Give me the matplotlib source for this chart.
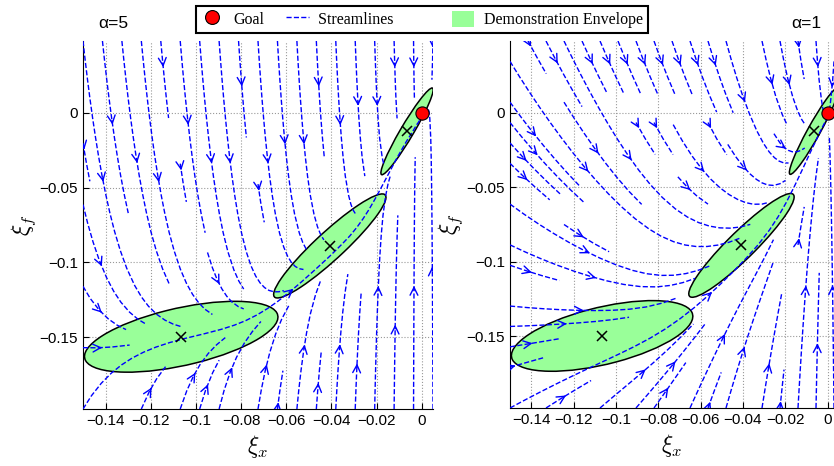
import numpy as np
import matplotlib
matplotlib.use("Agg")
import matplotlib.pyplot as plt
from matplotlib.patches import Ellipse, Patch
from matplotlib.lines import Line2D
from matplotlib.ticker import FuncFormatter

plt.rcParams['font.family'] = ['Liberation Sans', 'DejaVu Sans']
plt.rcParams['mathtext.fontset'] = 'cm'

# Gaussian components of the demonstration envelope (centre + covariance)
comp_x = [-0.1065, -0.0407, -0.0065]
comp_f = [-0.1497, -0.0890, -0.0124]
cov_xx = [1.835e-3, 6.19e-4, 1.34e-4]
cov_xf = [5.63e-4, 8.07e-4, 3.21e-4]
cov_ff = [5.61e-4, 1.21e-3, 8.40e-4]
goal = (0.0, 0.0)
alphas = [5, 1]
xticks = [-0.14, -0.12, -0.1, -0.08, -0.06, -0.04, -0.02, 0]
yticks = [-0.15, -0.1, -0.05, 0]

GREEN = '#99ff99'


def field(X, F, alpha):
    # weights of each component conditioned on xi_x
    w = np.array([np.exp(-0.5 * (X - mx) ** 2 / vx) / np.sqrt(vx)
                  for mx, vx in zip(comp_x, cov_xx)])
    w /= w.sum(axis=0)
    slopes = np.array(cov_xf) / np.array(cov_xx)
    fref = sum(w[k] * (comp_f[k] + slopes[k] * (X - comp_x[k])) for k in range(3))
    sl = sum(w[k] * slopes[k] for k in range(3))
    U = 0.5 * (goal[0] - X)
    V = sl * U + alpha * (fref - F)
    return U, V


def draw_streams(ax, alpha, xlim, ylim):
    xs = np.linspace(xlim[0], xlim[1], 80)
    fs = np.linspace(ylim[0], ylim[1], 80)
    X, F = np.meshgrid(xs, fs)
    U, V = field(X, F, alpha)
    strm = ax.streamplot(X, F, U, V, density=0.65, color='b', linewidth=1,
                         arrowstyle='->', arrowsize=1.4, zorder=3)
    segs = strm.lines.get_segments()
    strm.lines.remove()
    # redraw each streamline as one dashed line
    for p in segs:
        ax.plot(p[:, 0], p[:, 1], '--', color='b', lw=1, zorder=3)


def draw_envelope(ax):
    for k in range(3):
        cov = np.array([[cov_xx[k], cov_xf[k]], [cov_xf[k], cov_ff[k]]])
        vals, vecs = np.linalg.eigh(cov)
        ang = np.degrees(np.arctan2(vecs[1, 1], vecs[0, 1]))
        e = Ellipse((comp_x[k], comp_f[k]), 2 * np.sqrt(vals[1]), 2 * np.sqrt(vals[0]),
                    angle=ang, facecolor=GREEN, edgecolor='k', lw=1.1, zorder=2)
        ax.add_patch(e)
    ax.plot(comp_x, comp_f, 'x', color='k', ms=7, mew=1.1, zorder=5)
    ax.plot(goal[0], goal[1], 'o', color='red', mec='k', ms=9.5, mew=0.8, zorder=6, clip_on=False)


fmt = FuncFormatter(lambda v, p: ('%g' % v).replace('-', '\u2212'))

fig = plt.figure(figsize=(8.34, 4.66), dpi=100)
axes_pos = [[83 / 834, 57 / 466, 350 / 834, 368 / 466],
            [510 / 834, 58 / 466, 324 / 834, 367 / 466]]
xlims = [(-0.15, 0.005), (-0.15, 0.003)]
ylim = (-0.198, 0.048)

for i, alpha in enumerate(alphas):
    ax = fig.add_axes(axes_pos[i])
    ax.set_xlim(*xlims[i])
    ax.set_ylim(*ylim)
    draw_envelope(ax)
    draw_streams(ax, alpha, xlims[i], ylim)
    ax.set_xticks(xticks)
    ax.set_yticks(yticks)
    ax.xaxis.set_major_formatter(fmt)
    ax.yaxis.set_major_formatter(fmt)
    ax.tick_params(direction='in', labelsize=11, length=4)
    ax.grid(True, linestyle=':', color='0.6', lw=0.8, zorder=0)
    ax.set_axisbelow(True)
    for s in ['top', 'right']:
        ax.spines[s].set_visible(False)
    ax.set_xlabel(r'$\xi_x$', fontsize=17, labelpad=4)
    ax.set_ylabel(r'$\xi_f$', fontsize=17, labelpad=1)

fig.text(113 / 834, 1 - 24 / 466, '\u03b1=5', fontsize=12.5, ha='center', va='center')
fig.text(806 / 834, 1 - 24 / 466, '\u03b1=1', fontsize=12.5, ha='center', va='center')

handles = [Line2D([], [], marker='o', color='red', mec='k', ls='none', ms=10, mew=0.8),
           Line2D([], [], color='b', ls='--', lw=1),
           Patch(facecolor=GREEN, edgecolor='none')]
leg = fig.legend(handles, ['Goal', 'Streamlines' + ' ' * 9, 'Demonstration Envelope'],
                 loc='center', bbox_to_anchor=(422 / 834, 1 - 19.5 / 466), ncol=3,
                 prop={'family': 'Liberation Serif', 'size': 11.5}, fancybox=False,
                 edgecolor='k', framealpha=1, columnspacing=1.4, handlelength=1.4,
                 handleheight=1.2, handletextpad=0.6, borderpad=0.3, borderaxespad=0)
leg.get_frame().set_linewidth(1.5)

fig.savefig('out.png', dpi=100)
